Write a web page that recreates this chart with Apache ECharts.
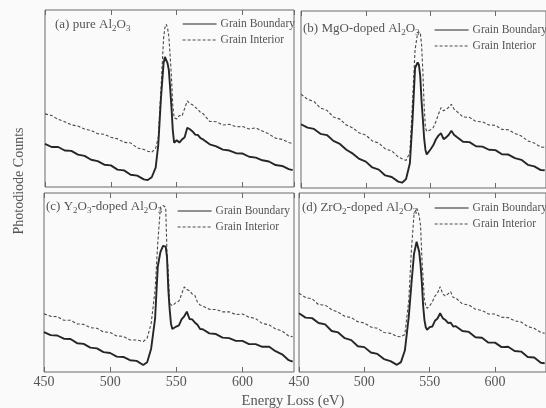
<!DOCTYPE html>
<html>
<head>
<meta charset="utf-8">
<script src="https://cdn.jsdelivr.net/npm/echarts@6/dist/echarts.min.js"></script>
<style>
html,body{margin:0;padding:0;background:#fafafa;}
#c{width:546px;height:408px;}
</style>
</head>
<body>
<div id="c"></div>
<script>
// Energy loss grid (eV)
const energy = [450,455,460,465,470,475,480,485,490,495,500,505,510,515,520,525,528,531,534,536,538,540,541,542,543,544,545,546,547,548,550,552,554,556,558,560,562,564,566,568,570,575,580,585,590,595,600,605,610,615,620,625,630,635,638];

// (a) pure Al2O3
const pureGB = [24.4,22.6,22.6,20.6,20.4,18.3,17.6,15.4,14.6,12.6,12.2,9.8,9.4,6.9,6.4,4.3,3.9,5.5,11,24,50,70,73.5,73,70,66,56,45,32,25,26.4,25.1,26.9,28.1,33.5,32.6,31.4,29.6,29.4,27.6,26.9,24.1,22.9,21.1,20.6,19.1,18.9,17.1,16.6,15.1,14.4,12.4,11.9,10.1,9.5];
const pureGI = [41.3,40.4,38.2,36.9,35.1,34.4,32.8,31.9,30.1,29.8,28.1,27.2,25.2,24.9,22.1,21.2,20.2,19.6,22,28,55,84,90,92,90,85,74,62,46,39,38.5,40.4,40.1,44.4,48.6,47.1,46.4,45.1,43.9,42.1,41.4,37.1,36.9,35,35.4,34,34.2,32.8,33.4,31.6,29.9,27.6,26.9,25.1,24.6];

// (b) MgO-doped Al2O3
const mgoGB = [36,34.1,33.4,30.6,29.9,26.6,24.9,21.6,19.4,16.4,14.9,11.6,10.4,7.1,6.2,3.6,3,5,14,38,67.8,71,69.5,63,49,39,28,21.5,19,18.4,21.9,24.1,27.4,29.6,30.9,27.6,28.6,30.1,32.4,30.1,28.9,26.1,25.9,23.6,23.4,21.6,21.4,19.1,18.9,16.9,15.9,13.1,12.2,10.1,10];
const mgoGI = [53,50.1,48.9,45.1,43.9,40.1,38.9,35.6,33.9,31.1,29.9,26.6,25.4,22.1,20.9,17.6,16.5,15.6,20,48,78,88,89,88,81,66,46,34,32,31.4,32.9,34.1,37.4,41.6,45.4,43.6,44.4,45.6,47.3,44.6,43.4,40.1,39.9,37.6,37.4,35.6,35.4,33.1,32.9,30.8,29.4,26.6,25.4,23.1,23];

// (c) Y2O3-doped Al2O3
const y2o3GB = [22.3,20.6,20.4,18.6,18.4,16.1,15.7,13.6,13.2,11.1,10.6,8.6,8.4,6.6,6.2,3.9,5.5,13,30,58.8,67,70.5,71,70,64,45.8,35,27,24,23.5,25.4,26.1,29.4,31.1,33.7,29.6,29.4,27.7,26.4,24,23.9,21.6,21.2,19.2,18.9,17.4,17.4,15.6,15.6,14.1,14.2,11.6,9.9,6.6,5.8];
const y2o3GI = [32.5,31.1,30.9,28.9,28.9,26.9,26.6,24.8,24.4,22.4,22.1,20.1,19.9,17.9,17.9,17,19,27,46,72,92,93,93,92,66,55,38.4,37.5,37,37.5,38.9,39.6,43.4,47.5,46.1,45.4,43.6,42.9,39.1,37.4,36.9,35,34.9,33.6,33.6,32.1,32.4,30.6,29.9,27.1,26.4,24.1,22.9,20.1,19.7];

// (d) ZrO2-doped Al2O3
const zro2GB = [32.8,30.4,30.1,27.4,26.6,22.9,22.1,18.9,17.8,14.4,13.9,10.9,10.1,7.2,6.1,4,5.5,12,30.9,49,66,72.8,72,67,60,50,37,29,25,23.5,25.1,25.4,28.6,29.9,32.8,30.1,29.1,27.4,27.6,25.4,25.6,22.9,22.4,19.4,19.1,16.4,16.4,13.9,14.1,11.7,11.4,8.4,8.1,5.2,4.9];
const zro2GI = [44,41.6,40.9,37.6,37.4,34.8,33.4,31.1,30.4,28.1,27.4,25.1,24.4,22.1,21.6,19.9,19.7,21,40,68,88,91.5,90,87,82,64.4,52,40.2,37,35.6,36.9,39.1,42.4,44.1,47.7,43.6,42.4,43.6,44.9,41.6,41.4,38,37.4,35.1,34.4,32.4,32.4,30.6,30.4,28.6,27.9,25.4,24.4,22.1,21.6];

const xTicks = [450, 500, 550, 600];
const xMin = 450, xMax = 639;
const seriesNames = ['Grain Boundary', 'Grain Interior'];
const panelTitles = [
  '(a) pure Al{s|2}O{s|3}',
  '(b) MgO-doped Al{s|2}O{s|3}',
  '(c) Y{s|2}O{s|3}-doped Al{s|2}O{s|3}',
  '(d) ZrO{s|2}-doped Al{s|2}O{s|3}'
];
const panelData = [[pureGB, pureGI], [mgoGB, mgoGI], [y2o3GB, y2o3GI], [zro2GB, zro2GI]];

const FONT = '"Liberation Serif", "DejaVu Serif", serif';
const TXT = '#555';
const GB_COLOR = '#262626';
const GI_COLOR = '#4a4a4a';

const grids = [
  {left: 45, top: 10, width: 249, height: 177},
  {left: 301, top: 11, width: 249, height: 177},
  {left: 44, top: 193, width: 250, height: 179},
  {left: 299, top: 193, width: 249, height: 179}
];
const titlePos = [[55, 17], [303, 21], [46, 199], [302, 200]];
const legendPos = [[182, 18], [434, 24], [177, 205], [434, 202]];

const option = {
  backgroundColor: '#fafafa',
  animation: false,
  grid: grids.map(g => Object.assign({show: true, borderColor: '#6a6a6a', borderWidth: 1, backgroundColor: 'transparent', containLabel: false}, g)),
  xAxis: [],
  yAxis: [],
  series: [],
  title: [],
  legend: [],
  graphic: [
    {type: 'text', x: 19, y: 181, rotation: Math.PI / 2,
     style: {text: 'Photodiode Counts', font: '14px ' + FONT, fill: TXT, align: 'center', verticalAlign: 'middle'}},
    {type: 'text', x: 293, y: 401,
     style: {text: 'Energy Loss (eV)', font: '14.5px ' + FONT, fill: TXT, align: 'center', verticalAlign: 'middle'}}
  ]
};

panelData.forEach((pair, k) => {
  const showLabels = k >= 2;
  option.xAxis.push({
    type: 'value', gridIndex: k, position: 'bottom', min: xMin, max: xMax, interval: 50,
    axisLine: {show: false},
    axisTick: {show: true, inside: true, length: 5, lineStyle: {color: '#6a6a6a'}},
    splitLine: {show: false},
    axisLabel: {show: showLabels, color: TXT, fontFamily: FONT, fontSize: 14, margin: 3, showMaxLabel: false,
      formatter: v => (xTicks.indexOf(v) >= 0 ? String(v) : '')}
  });
  option.xAxis.push({
    type: 'value', gridIndex: k, position: 'top', min: xMin, max: xMax, interval: 50,
    axisLine: {show: false},
    axisTick: {show: true, inside: true, length: 5, lineStyle: {color: '#6a6a6a'}},
    splitLine: {show: false},
    axisLabel: {show: false}
  });
  option.yAxis.push({type: 'value', gridIndex: k, min: 0, max: 100, show: false});
  pair.forEach((arr, j) => {
    option.series.push({
      type: 'line', name: seriesNames[j], xAxisIndex: k * 2, yAxisIndex: k,
      symbol: 'none', smooth: false,
      itemStyle: {color: j === 0 ? GB_COLOR : GI_COLOR},
      lineStyle: j === 0 ? {color: GB_COLOR, width: 1.9, type: 'solid'} : {color: GI_COLOR, width: 1.1, type: [3, 2]},
      z: j === 0 ? 3 : 2,
      data: energy.map((e, i) => [e, arr[i]])
    });
  });
  option.title.push({
    text: panelTitles[k], left: titlePos[k][0], top: titlePos[k][1], padding: 0,
    textStyle: {fontFamily: FONT, fontSize: 13, fontWeight: 'normal', color: TXT, lineHeight: 16,
      rich: {s: {fontFamily: FONT, fontSize: 9, color: TXT, verticalAlign: 'bottom', lineHeight: 10, padding: [6, 0, 0, 0]}}}
  });
  option.legend.push({
    data: seriesNames, orient: 'vertical', left: legendPos[k][0], top: legendPos[k][1],
    itemWidth: 34, itemHeight: 10, itemGap: 4, padding: 0, selectedMode: false,
    itemStyle: {opacity: 0},
    lineStyle: {width: 1.2},
    textStyle: {fontFamily: FONT, fontSize: 11.5, color: TXT, padding: [0, 0, 0, -1]}
  });
});

const chart = echarts.init(document.getElementById('c'), null, {renderer: 'canvas'});
chart.setOption(option);
</script>
</body>
</html>
